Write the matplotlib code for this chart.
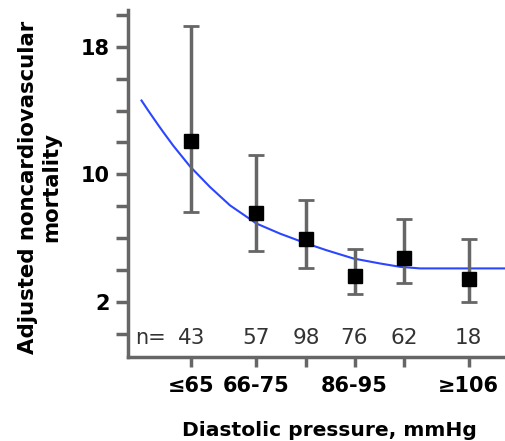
import matplotlib
matplotlib.use("Agg")
import matplotlib.pyplot as plt

# Data
categories = ["≤65", "66-75", "76-85", "86-95", "96-105", "≥106"]
tick_labels = ["≤65", "66-75", "", "86-95", "", "≥106"]
x_pos = [58.7, 71.6, 81.6, 91.3, 101.2, 114.1]
mortality = [12.08, 7.58, 5.98, 3.63, 4.77, 3.42]
ci_low = [7.63, 5.21, 4.14, 2.50, 3.21, 1.98]
ci_high = [19.27, 11.19, 8.38, 5.35, 7.19, 5.98]
n_counts = [43, 57, 98, 76, 62, 18]

fit_x = [48.7, 50.0, 51.1, 52.1, 53.1, 55.1, 58.4, 62.4, 66.4, 71.7, 76.4, 81.7, 85.7, 91.1, 96.4, 100.4, 104.4, 121.6]
fit_y = [14.63, 14.02, 13.52, 13.07, 12.63, 11.78, 10.5, 9.21, 8.06, 6.92, 6.29, 5.67, 5.25, 4.73, 4.42, 4.21, 4.11, 4.11]

y_ticks = [0, 2, 4, 6, 8, 10, 12, 14, 16, 18, 20]
y_tick_labels = ["", "2", "", "", "", "10", "", "", "", "18", ""]

plt.rcParams['font.family'] = ['DejaVu Sans']

fig = plt.figure(figsize=(5.06, 4.41), dpi=100)
ax = fig.add_axes([128/506, 1 - 357/441, 1 - 128/506, (357 - 10)/441])

axis_col = "#666666"

ax.plot(fit_x, fit_y, color="#2b46ff", lw=1.5, zorder=2)

yerr = [[m - lo for m, lo in zip(mortality, ci_low)],
        [hi - m for m, hi in zip(mortality, ci_high)]]
ax.errorbar(x_pos, mortality, yerr=yerr, fmt="none", ecolor="#666666",
            elinewidth=2.5, capsize=6, capthick=2, zorder=3)
ax.plot(x_pos, mortality, "s", color="black", markersize=9.5, zorder=4)

ax.set_xlim(46, 121.6)
ax.set_ylim(-1.44, 20.3)

for sp in ["top", "right"]:
    ax.spines[sp].set_visible(False)
for sp in ["left", "bottom"]:
    ax.spines[sp].set_color(axis_col)
    ax.spines[sp].set_linewidth(2.5)

ax.set_yticks(y_ticks)
ax.set_yticklabels(y_tick_labels, fontsize=15, fontweight="bold")
ax.set_xticks(x_pos)
ax.set_xticklabels(tick_labels, fontsize=15, fontweight="bold")
ax.tick_params(axis="y", length=9, width=2.5, color=axis_col, pad=4)
ax.tick_params(axis="x", length=7, width=2.5, color=axis_col, pad=7)

ax.text(50.6, -0.25, "n=", fontsize=15, color="#333333", ha="center", va="center")
for x, n in zip(x_pos, n_counts):
    ax.text(x, -0.25, str(n), fontsize=15.5, color="#333333", ha="center", va="center")

fig.text(329.5/506, 1 - 431/441, "Diastolic pressure, mmHg", fontsize=14.6,
         fontweight="bold", ha="center", va="center")
fig.text(40/506, 1 - 187/441, "Adjusted noncardiovascular\nmortality", fontsize=15.3,
         fontweight="bold", ha="center", va="center", rotation=90,
         multialignment="center", linespacing=1.2)

fig.savefig("out.png", dpi=100)
